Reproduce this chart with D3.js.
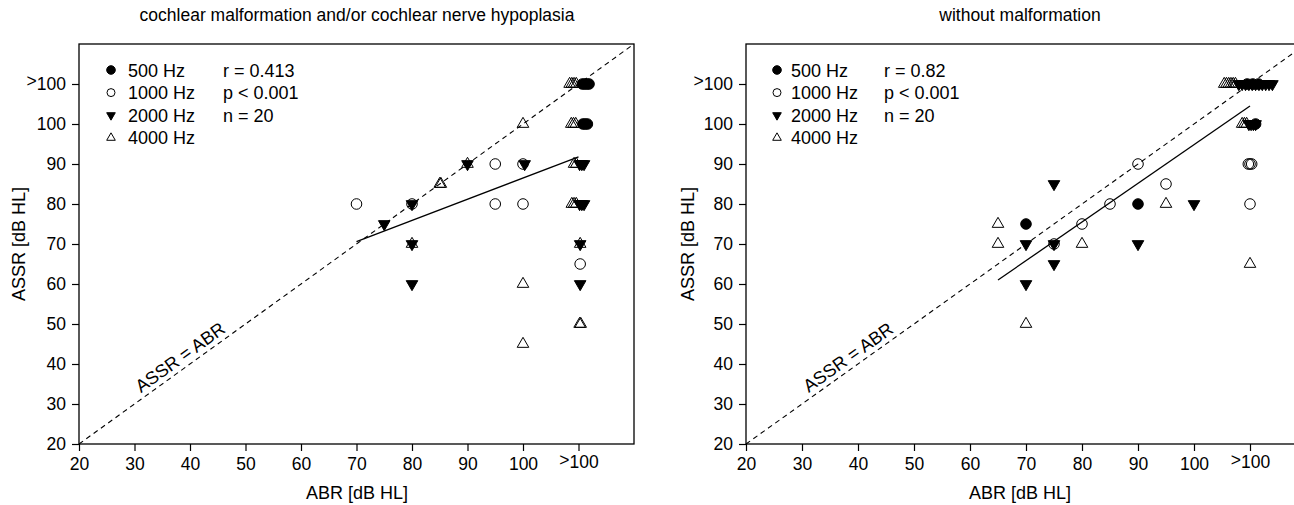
<!DOCTYPE html>
<html>
<head>
<meta charset="utf-8">
<script src="https://cdn.jsdelivr.net/npm/d3@7"></script>
<style>
body { margin: 0; background: #fff; }
svg text { font-family: "Liberation Sans", Arial, sans-serif; fill: #000; }
</style>
</head>
<body>
<script>
// ">100" is plotted at 110, small x offsets spread out the stacked points
const tickValues = [20, 30, 40, 50, 60, 70, 80, 90, 100, 110];
const tickLabels = ["20", "30", "40", "50", "60", "70", "80", "90", "100", ">100"];
const freqLabels = ["500 Hz", "1000 Hz", "2000 Hz", "4000 Hz"];

// left: cochlear malformation and/or cochlear nerve hypoplasia
const left500 = [[110.7,110],[111.1,110],[111.5,110],[111.9,110],[110.8,100],[111.2,100],[111.6,100]];
const left1000 = [[70,80],[80,80],[95,90],[95,80],[100,90],[100,80],[110.3,65]];
const left2000 = [[75,75],[80,80],[80,70],[80,60],[90,90],[100.3,90],[110.2,90],[110.6,90],[111,90],
                  [110.2,80],[110.6,80],[111,80],[110.3,70],[110.3,60]];
const left4000 = [[80,70],[85,85],[85.2,85],[90,90],[100,100],[100,60],[100,45],
                  [108.4,110],[108.8,110],[109.2,110],[109.6,110],[108.7,100],[109.1,100],[109.5,100],
                  [109.2,90],[109.6,90],[108.8,80],[109.2,80],[109.6,80],[110.3,70],[110.2,50],[110.4,50]];
const leftFit = [[70,70.6],[110,91.8]];
const leftStats = ["r = 0.413", "p < 0.001", "n = 20"];

// right: without malformation
const right500 = [[70,75],[90,80],[109.5,110],[110.5,110],[111.5,110],[111,100]];
const right1000 = [[75,70],[80,75],[85,80],[90,90],[95,85],[109.7,90],[110,90],[110.3,90],[110,80]];
const right2000 = [[70,70],[70,60],[75,85],[75,70],[75,65],[90,70],[100,80],
                   [108,110],[108.6,110],[109.2,110],[109.8,110],[110.4,110],[111,110],[111.6,110],
                   [112.2,110],[112.8,110],[113.4,110],[114,110],
                   [109.8,100],[110.2,100],[110.6,100],[111,100]];
const right4000 = [[65,75],[65,70],[70,50],[80,70],[95,80],
                   [105.4,110],[105.8,110],[106.2,110],[106.6,110],[107,110],[107.4,110],
                   [108.6,100],[109,100],[109.4,100],[110,65]];
const rightFit = [[65,61],[110,104.5]];
const rightStats = ["r = 0.82", "p < 0.001", "n = 20"];

const svg = d3.select("body").append("svg")
    .attr("width", 1294)
    .attr("height", 505);

// marker styles: filled circle, open circle, filled triangle down, open triangle up
const markers = [
  {type: d3.symbolCircle, rot: 0, fill: "#000"},
  {type: d3.symbolCircle, rot: 0, fill: "none"},
  {type: d3.symbolTriangle, rot: 180, fill: "#000"},
  {type: d3.symbolTriangle, rot: 0, fill: "none"}
];
const bigSize = [88, 88, 58, 58];
const smallSize = [58, 50, 32, 32];

function drawPanel(o) {
  const x = d3.scaleLinear().domain([20, 120]).range([o.x0, o.x1]);
  const y = d3.scaleLinear().domain([20, 120]).range([444, 44]);
  const g = svg.append("g");

  // frame
  g.append("rect")
      .attr("x", x(20)).attr("y", y(120))
      .attr("width", x(120) - x(20)).attr("height", y(20) - y(120))
      .attr("fill", "none").attr("stroke", "#000").attr("stroke-width", 1.3);

  const fmt = d => tickLabels[tickValues.indexOf(d)];

  const xAxis = g.append("g")
      .attr("transform", `translate(0,${y(20)})`)
      .call(d3.axisBottom(x).tickValues(tickValues).tickFormat(fmt).tickSize(7).tickPadding(7));
  const yAxis = g.append("g")
      .attr("transform", `translate(${x(20)},0)`)
      .call(d3.axisLeft(y).tickValues(tickValues).tickFormat(fmt).tickSize(7).tickPadding(6));

  [[xAxis, 0.71, -2], [yAxis, 0.32, 0]].forEach(([a, base, shift]) => {
    a.select(".domain").remove();
    a.selectAll(".tick line").attr("stroke", "#000").attr("stroke-width", 1.2);
    a.selectAll(".tick text").attr("font-size", 17.5).attr("font-family", "Liberation Sans, Arial, sans-serif");
    // raised ">" as in the original
    a.selectAll(".tick text").filter(d => d === 110).each(function() {
      const t = d3.select(this).text("").attr("dy", null);
      t.append("tspan").attr("dy", `${base - 0.15}em`).text(">");
      t.append("tspan").attr("dy", "0.15em").text("100");
      t.attr("transform", `translate(0,${shift})`);
    });
  });

  // identity line
  g.append("line")
      .attr("x1", x(20)).attr("y1", y(20))
      .attr("x2", x(120)).attr("y2", y(120))
      .attr("stroke", "#000").attr("stroke-width", 1.1)
      .attr("stroke-dasharray", "5,4");

  const ang = Math.atan2(y(20) - y(120), x(120) - x(20)) * 180 / Math.PI;
  g.append("text")
      .attr("transform", `translate(${x(39.4)},${y(39.4)}) rotate(${-ang})`)
      .attr("y", -5)
      .attr("text-anchor", "middle")
      .attr("font-size", 18)
      .text("ASSR = ABR");

  // regression line
  g.append("path")
      .attr("d", d3.line().x(d => x(d[0])).y(d => y(d[1]))(o.fit))
      .attr("fill", "none").attr("stroke", "#000").attr("stroke-width", 1.3);

  // points
  o.series.forEach((pts, i) => {
    const m = markers[i];
    g.append("g").selectAll("path")
      .data(pts)
      .join("path")
      .attr("d", d3.symbol(m.type, bigSize[i]))
      .attr("transform", d => `translate(${x(d[0])},${y(d[1])}) rotate(${m.rot})`)
      .attr("fill", m.fill)
      .attr("stroke", "#000")
      .attr("stroke-width", 1);
  });

  // legend
  freqLabels.forEach((lab, i) => {
    const m = markers[i];
    const cy = 70 + i * 22.6;
    g.append("path")
        .attr("d", d3.symbol(m.type, smallSize[i]))
        .attr("transform", `translate(${o.legX},${cy}) rotate(${m.rot})`)
        .attr("fill", m.fill).attr("stroke", "#000").attr("stroke-width", 1);
    g.append("text")
        .attr("x", o.legX + o.legGap).attr("y", cy + 6.5)
        .attr("font-size", 18)
        .text(lab);
  });
  o.stats.forEach((s, i) => {
    g.append("text")
        .attr("x", o.statX).attr("y", 76.5 + i * 22.6)
        .attr("font-size", 18)
        .text(s);
  });

  // titles and axis labels
  g.append("text")
      .attr("x", o.midX).attr("y", 21)
      .attr("text-anchor", "middle").attr("font-size", 17.5)
      .text(o.title);
  g.append("text")
      .attr("x", o.midX).attr("y", 499)
      .attr("text-anchor", "middle").attr("font-size", 18)
      .text("ABR [dB HL]");
  g.append("text")
      .attr("transform", `translate(${o.yLabX},${y(70)}) rotate(-90)`)
      .attr("text-anchor", "middle").attr("font-size", 18)
      .text("ASSR [dB HL]");
}

drawPanel({
  x0: 79, x1: 634, midX: 357, yLabX: 25,
  title: "cochlear malformation and/or cochlear nerve hypoplasia",
  series: [left500, left1000, left2000, left4000],
  fit: leftFit, stats: leftStats,
  legX: 111, legGap: 17, statX: 223
});

drawPanel({
  x0: 746, x1: 1306, midX: 1020, yLabX: 694,
  title: "without malformation",
  series: [right500, right1000, right2000, right4000],
  fit: rightFit, stats: rightStats,
  legX: 777, legGap: 14, statX: 884
});
</script>
</body>
</html>
